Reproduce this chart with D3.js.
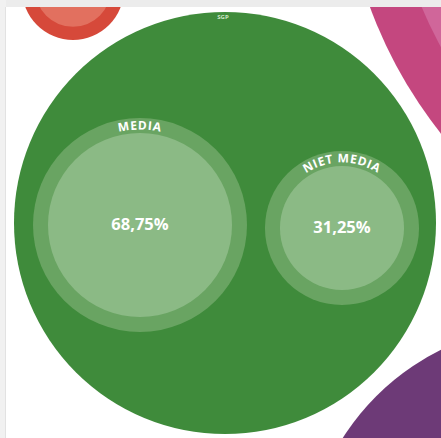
<!DOCTYPE html>
<html><head><meta charset="utf-8">
<script src="https://cdn.jsdelivr.net/npm/d3@7"></script>
<style>html,body{margin:0;padding:0;background:#fff;}svg{display:block;}</style>
</head><body>
<svg id="chart" width="441" height="438"></svg>
<script>
// Party bubbles (only SGP is fully visible in this crop)
const parties = ["SGP", "partij-linksboven", "partij-rechtsboven", "partij-rechtsonder"];
const partyValues = [100, 5.84, 467, 132.6];
const partyColors = ["#3f8b3b", "#d6493a", "#c4477f", "#6d3a77"];
const partyInnerColors = [null, "#e2705f", "#d0669a", null];
const partyInnerShare = [0, 0.55, 0.80, 0];

// SGP split
const subCategories = ["MEDIA", "NIET MEDIA"];
const subValues = [68.75, 31.25];
const subLabels = ["68,75%", "31,25%"];

// layout (relative centres of the bubbles in the crop)
const layout = {
  centers: [[225, 223], [73, -11], [798, -150], [548, 568]],
  subCenters: [[-85, 2], [117, 5]],
  ring: 15
};

const svg = d3.select("#chart");
const W = 441, H = 438;

// page frame
svg.append("rect").attr("width", W).attr("height", H).attr("fill", "#ececec");
svg.append("rect").attr("x", 6).attr("y", 7).attr("width", W - 6).attr("height", H - 7).attr("fill", "#ffffff");

const g = svg.append("g");
const rParty = d3.scaleSqrt().domain([0, 100]).range([0, 211]);

parties.forEach((p, i) => {
  const [cx, cy] = layout.centers[i];
  const r = rParty(partyValues[i]);
  g.append("circle").attr("cx", cx).attr("cy", cy).attr("r", r).attr("fill", partyColors[i]);
  if (partyInnerColors[i]) {
    g.append("circle").attr("cx", cx).attr("cy", cy)
      .attr("r", rParty(partyValues[i] * partyInnerShare[i]))
      .attr("fill", partyInnerColors[i]);
  }
});

// re-draw frame strips over partial bubbles
svg.append("rect").attr("x", 0).attr("y", 0).attr("width", W).attr("height", 7).attr("fill", "#ececec");
svg.append("rect").attr("x", 0).attr("y", 0).attr("width", 6).attr("height", H).attr("fill", "#f1f1f1");
svg.append("rect").attr("x", 5).attr("y", 7).attr("width", 1).attr("height", H - 7).attr("fill", "#e2e2e2");

// SGP label
const [sx, sy] = layout.centers[0];
const sgpR = rParty(partyValues[0]);
svg.append("text").attr("x", sx - 2).attr("y", sy - sgpR + 7)
  .attr("text-anchor", "middle").attr("font-family", "Open Sans, sans-serif")
  .attr("font-weight", 700).attr("font-size", 6).attr("fill", "#cfe6c8").text("SGP");

const rSub = d3.scaleSqrt().domain([0, d3.max(subValues)]).range([0, 92]);

subCategories.forEach((c, i) => {
  const cx = sx + layout.subCenters[i][0];
  const cy = sy + layout.subCenters[i][1];
  const ri = rSub(subValues[i]);
  const ro = ri + layout.ring;
  g.append("circle").attr("cx", cx).attr("cy", cy).attr("r", ro).attr("fill", "#69a462");
  g.append("circle").attr("cx", cx).attr("cy", cy).attr("r", ri).attr("fill", "#8bba85");
  const R = ri + layout.ring / 2 - 1;
  const id = "arc" + i;
  svg.append("path").attr("id", id).attr("fill", "none")
    .attr("d", `M${cx - R},${cy} A${R},${R} 0 0 1 ${cx + R},${cy}`);
  svg.append("text").attr("font-family", "Open Sans, sans-serif").attr("font-weight", 700)
    .attr("font-size", 12).attr("fill", "#ffffff").attr("dominant-baseline", "middle")
    .attr("letter-spacing", 1)
    .append("textPath").attr("href", "#" + id).attr("startOffset", "50%")
    .attr("text-anchor", "middle").text(c);
  svg.append("text").attr("x", cx).attr("y", cy + 1)
    .attr("text-anchor", "middle").attr("dominant-baseline", "middle")
    .attr("font-family", "Open Sans, sans-serif").attr("font-weight", 700)
    .attr("font-size", 16.5).attr("fill", "#ffffff").text(subLabels[i]);
});
</script>
</body></html>
